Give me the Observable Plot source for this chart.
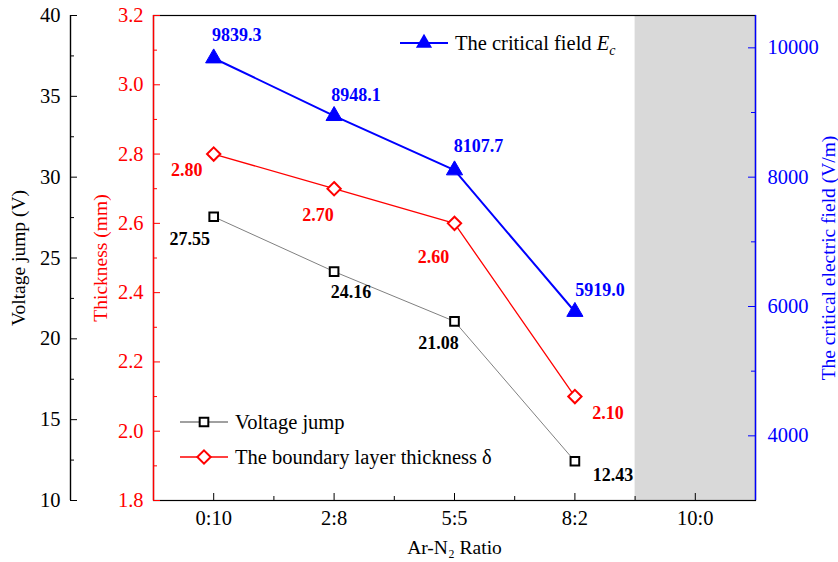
<!DOCTYPE html>
<html><head><meta charset="utf-8">
<script src="https://cdn.jsdelivr.net/npm/d3@7"></script>
<script src="https://cdn.jsdelivr.net/npm/@observablehq/plot@0.6"></script>
<style>
body{margin:0;background:#fff;}
#chart{position:relative;width:838px;height:562px;}
#chart svg{position:absolute;left:0;top:0;}
</style></head><body><div id="chart"></div>
<script>
// ---- data ----
const ratios = ["0:10", "2:8", "5:5", "8:2", "10:0"];
const voltageJump = [27.55, 24.16, 21.08, 12.43];
const thickness = [2.80, 2.70, 2.60, 2.10];
const criticalField = [9839.3, 8948.1, 8107.7, 5919.0];
const voltageTicks = [10, 15, 20, 25, 30, 35, 40];
const voltageMinor = [12.5, 17.5, 22.5, 27.5, 32.5, 37.5];
const thicknessTicks = [1.8, 2.0, 2.2, 2.4, 2.6, 2.8, 3.0, 3.2];
const thicknessMinor = [1.9, 2.1, 2.3, 2.5, 2.7, 2.9, 3.1];
const fieldTicks = [4000, 6000, 8000, 10000];
const fieldMinor = [5000, 7000, 9000];
const xMajor = [0, 1, 2, 3, 4];
const xMinor = [0.5, 1.5, 2.5, 3.5];
const shaded = [{x1: 3.5, x2: 4.5}];

// ---- layout ----
const W = 838, H = 562, mT = 15, mB = 62, mR = 83, mL = 153, mLV = 70;
const frameW = W - mL - mR, frameH = H - mT - mB;
const pxPerUnit = frameW / 5;
const xDomain = [-0.5, 4.5];
const xDomainV = [-0.5 - (mL - mLV) / pxPerUnit, 4.5];
const font = "'Liberation Serif', 'Times New Roman', serif";
const RED = "#ff0000", BLUE = "#0000ff", GRAY = "#808080";
const fs = 20.5, tfs = 19.5, lfs = 18, legfs = 20.5;

const vData = voltageJump.map((v, i) => ({i, v}));
const tData = thickness.map((v, i) => ({i, v}));
const fData = criticalField.map((v, i) => ({i, v}));

const vOff = [[-24, 22], [17, 21], [-16, 22], [38, 14]];
const tOff = [[-27, 16], [-16, 27], [-21, 34], [33, 17]];
const fOff = [[23, -23], [22, -21], [24, -24], [25, -22]];

function labels(data, off, fmt, color) {
  return data.map((d, k) => Plot.text([d], {x: "i", y: "v", text: d => fmt(d.v),
    dx: off[k][0], dy: off[k][1], fill: color, fontWeight: "bold", fontSize: lfs}));
}
const base = {width: W, height: H, marginTop: mT, marginBottom: mB, marginRight: mR};
const style = {fontFamily: font, fontSize: fs + "px", background: "none", overflow: "visible"};
const title = {textAnchor: "middle", lineAnchor: "middle", fontSize: tfs};

// ---- Plot A: frame, shading, x axis, thickness (red) ----
const plotA = Plot.plot({
  ...base, marginLeft: mL, style: {...style, background: "white"},
  x: {domain: xDomain, axis: null, label: null},
  y: {domain: [1.8, 3.2], axis: null, label: null},
  marks: [
    Plot.rect(shaded, {x1: "x1", x2: "x2", fill: "#d9d9d9"}),
    Plot.frame({stroke: "black", strokeWidth: 1.2}),
    Plot.ruleX([xDomain[0]], {stroke: RED, strokeWidth: 1.4}),
    Plot.tickX(xMajor, {x: d => d, stroke: "black", insetTop: frameH - 7}),
    Plot.tickX(xMinor, {x: d => d, stroke: "black", insetTop: frameH - 4}),
    Plot.axisX(xMajor, {anchor: "bottom", tickSize: 0, tickPadding: 10, tickFormat: i => ratios[i], label: null, fontSize: fs, fill: "black"}),
    Plot.tickY(thicknessTicks, {y: d => d, stroke: RED, insetRight: frameW - 7}),
    Plot.tickY(thicknessMinor, {y: d => d, stroke: RED, insetRight: frameW - 4}),
    Plot.axisY(thicknessTicks, {anchor: "left", tickSize: 0, tickPadding: 10, tickFormat: d3.format(".1f"), label: null, color: RED, fontSize: fs}),
    Plot.text(["Thickness (mm)"], {...title, frameAnchor: "left", dx: -53, rotate: -90, fill: RED}),
    Plot.text(["Ar-N₂ Ratio"], {...title, frameAnchor: "bottom", dy: 47, fill: "black"}),
    Plot.line(tData, {x: "i", y: "v", stroke: RED, strokeWidth: 1.3}),
    Plot.dot(tData, {x: "i", y: "v", symbol: "diamond2", r: 6, fill: "white", stroke: RED, strokeWidth: 2}),
    ...labels(tData, tOff, d3.format(".2f"), RED)
  ]
});

// ---- Plot B: voltage jump (black, outer left axis) ----
const plotB = Plot.plot({
  ...base, marginLeft: mLV, style,
  x: {domain: xDomainV, axis: null, label: null},
  y: {domain: [10, 40], axis: null, label: null},
  marks: [
    Plot.ruleX([xDomainV[0]], {stroke: "black", strokeWidth: 1.4}),
    Plot.tickY(voltageTicks, {y: d => d, stroke: "black", insetRight: (W - mLV - mR) - 7}),
    Plot.tickY(voltageMinor, {y: d => d, stroke: "black", insetRight: (W - mLV - mR) - 4}),
    Plot.axisY(voltageTicks, {anchor: "left", tickSize: 0, tickPadding: 10, label: null, color: "black", fontSize: fs}),
    Plot.text(["Voltage jump (V)"], {...title, frameAnchor: "left", dx: -52, rotate: -90, fill: "black"}),
    Plot.line(vData, {x: "i", y: "v", stroke: GRAY, strokeWidth: 1}),
    Plot.dot(vData, {x: "i", y: "v", symbol: "square2", r: 5.5, fill: "white", stroke: "black", strokeWidth: 2}),
    ...labels(vData, vOff, d3.format(".2f"), "black")
  ]
});

// ---- Plot C: critical field (blue, right axis) ----
const plotC = Plot.plot({
  ...base, marginLeft: mL, style,
  x: {domain: xDomain, axis: null, label: null},
  y: {domain: [3000, 10500], axis: null, label: null},
  marks: [
    Plot.ruleX([xDomain[1]], {stroke: BLUE, strokeWidth: 1.4}),
    Plot.tickY(fieldTicks, {y: d => d, stroke: BLUE, insetLeft: frameW - 7}),
    Plot.tickY(fieldMinor, {y: d => d, stroke: BLUE, insetLeft: frameW - 4}),
    Plot.axisY(fieldTicks, {anchor: "right", tickSize: 0, tickPadding: 12, tickFormat: d3.format("d"), label: null, color: BLUE, fontSize: fs}),
    Plot.text(["The critical electric field (V/m)"], {...title, frameAnchor: "right", dx: 73, rotate: -90, fill: BLUE}),
    Plot.line(fData, {x: "i", y: "v", stroke: BLUE, strokeWidth: 2}),
    Plot.dot(fData, {x: "i", y: "v", symbol: "triangle", r: 6, fill: BLUE, stroke: BLUE, strokeWidth: 1}),
    ...labels(fData, fOff, d3.format(".1f"), BLUE)
  ]
});

const chart = document.getElementById("chart");
chart.append(plotA, plotB, plotC);

// ---- legends ----
const g = d3.select(plotC).append("g").attr("font-family", font).attr("font-size", legfs)
  .attr("fill", "black").attr("text-anchor", "start");
function legendRow(x, y, color, sw, symbol, r, fill, stroke) {
  g.append("line").attr("x1", x).attr("x2", x + 48).attr("y1", y).attr("y2", y)
    .attr("stroke", color).attr("stroke-width", sw);
  g.append("path").attr("d", d3.symbol(symbol, Math.PI * r * r)())
    .attr("transform", `translate(${x + 24},${y})`).attr("fill", fill).attr("stroke", stroke).attr("stroke-width", 2);
  return g.append("text").attr("x", x + 55).attr("y", y).attr("dy", "0.35em");
}
const tE = legendRow(mL + 247, mT + 28, BLUE, 2, d3.symbolTriangle, 6, BLUE, "none");
tE.append("tspan").text("The critical field ");
tE.append("tspan").attr("font-style", "italic").text("E");
tE.append("tspan").attr("font-style", "italic").attr("font-size", 14).attr("dy", 5).text("c");
legendRow(mL + 27, mT + 407, GRAY, 1.3, d3.symbolSquare2, 5.5, "white", "black").text("Voltage jump");
legendRow(mL + 27, mT + 442, RED, 1.3, d3.symbolDiamond2, 6, "white", RED).text("The boundary layer thickness δ");
</script></body></html>
